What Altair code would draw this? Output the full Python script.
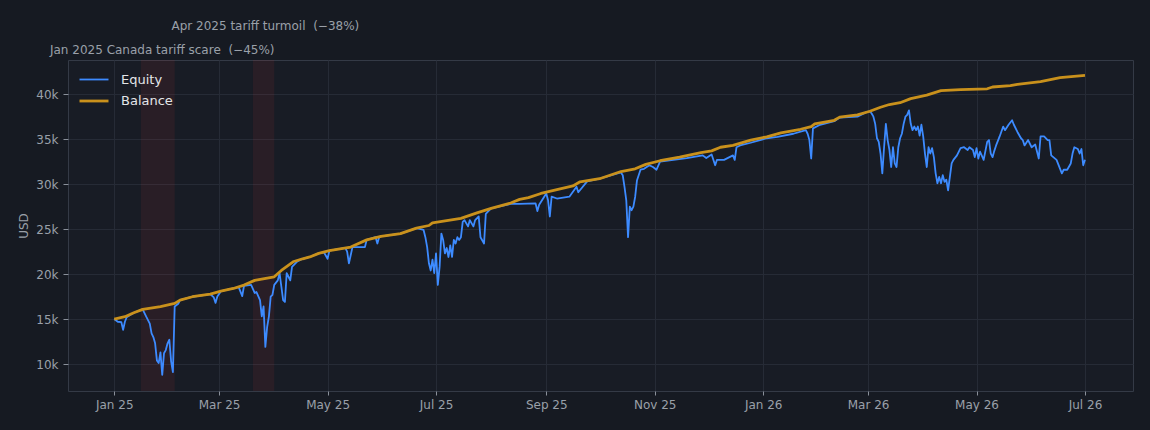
import altair as alt
import pandas as pd

# ---------------- data ----------------
START = "2025-01-01"

# balance: days since 2025-01-01, value in USD
bal_day = [0, 6, 11, 16, 26, 34, 37, 44, 54, 60,
           67, 73, 79, 90, 94, 101, 106, 110, 115, 121,
           133, 142, 150, 161, 170, 177, 179, 195, 204, 212,
           223, 228, 233, 240, 249, 258, 262, 273, 285, 293,
           299, 307, 318, 330, 336, 341, 348, 358, 367, 375,
           386, 392, 394, 405, 408, 418, 425, 431, 436, 442,
           448, 457, 465, 476, 491, 494, 504, 508, 521, 532,
           546]
bal_val = [15000, 15260, 15700, 16070, 16370, 16740, 17100, 17480, 17780, 18100,
           18400, 18780, 19300, 19700, 20400, 21400, 21700, 21900, 22300, 22600,
           23000, 23800, 24200, 24500, 25100, 25400, 25700, 26200, 26800, 27300,
           27900, 28300, 28500, 28960, 29400, 29800, 30260, 30600, 31400, 31700,
           32200, 32600, 33000, 33500, 33700, 34100, 34300, 34900, 35260, 35700,
           36100, 36400, 36700, 37100, 37450, 37700, 38100, 38550, 38850, 39050,
           39500, 39900, 40400, 40500, 40600, 40800, 40960, 41100, 41400, 41850,
           42100]

# equity: days since 2025-01-01, value in USD
eq_day = [0, 2, 4, 5, 6, 7, 11, 16, 18, 20,
          21, 22, 23, 24, 25, 26, 27, 28, 29, 30,
          31, 32, 33, 34, 36, 37, 44, 54, 56, 57,
          58, 60, 67, 70, 72, 73, 77, 79, 80, 82,
          83, 84, 85, 86, 87, 88, 89, 90, 92, 93,
          94, 95, 96, 97, 98, 99, 100, 103, 106, 110,
          115, 118, 120, 121, 130, 131, 132, 133, 134, 141,
          142, 147, 148, 149, 150, 161, 170, 174, 175, 176,
          177, 178, 179, 180, 181, 182, 183, 184, 185, 186,
          187, 188, 189, 190, 191, 192, 193, 194, 195, 196,
          197, 199, 200, 202, 203, 205, 206, 208, 209, 211,
          212, 223, 228, 237, 238, 239, 243, 244, 245, 246,
          249, 256, 260, 261, 266, 273, 285, 286, 287, 288,
          289, 290, 291, 292, 293, 294, 296, 298, 301, 303,
          305, 307, 322, 331, 333, 336, 338, 339, 343, 348,
          349, 350, 352, 358, 367, 373, 382, 389, 390, 391,
          392, 393, 397, 405, 408, 418, 423, 425, 426, 427,
          428, 429, 430, 431, 432, 433, 434, 435, 436, 437,
          438, 439, 440, 441, 442, 443, 444, 445, 446, 447,
          448, 449, 450, 451, 452, 453, 454, 455, 456, 457,
          458, 459, 460, 461, 462, 463, 464, 465, 466, 467,
          468, 469, 470, 471, 472, 474, 476, 478, 480, 481,
          483, 484, 485, 486, 487, 489, 491, 492, 493, 494,
          495, 496, 498, 500, 501, 503, 505, 506, 508, 510,
          511, 512, 514, 516, 518, 520, 521, 523, 525, 526,
          527, 530, 532, 533, 534, 536, 538, 539, 540, 542,
          543, 544, 545, 546]
eq_val = [15000, 14700, 14650, 13800, 14700, 15200, 15700, 16070, 15260, 14500,
          13400, 13000, 12300, 10400, 10100, 11300, 8800, 11200, 11550, 12300,
          12700, 10300, 9100, 16400, 16700, 17100, 17480, 17780, 17400, 16800,
          17500, 18100, 18400, 18550, 17550, 18700, 18800, 17900, 18000, 17100,
          15300, 16400, 11900, 14100, 15300, 17500, 17700, 18800, 19300, 20100,
          18600, 17100, 16900, 20100, 19700, 19300, 20800, 21400, 21700, 21900,
          22300, 22400, 21700, 22600, 22900, 22500, 21200, 22100, 23000, 23000,
          23800, 24100, 23400, 24100, 24200, 24500, 25100, 24900, 24100, 23000,
          21200, 20400, 21600, 20100, 22300, 18800, 20800, 24500, 23800, 22300,
          22900, 21900, 23200, 21900, 23800, 23400, 24100, 23800, 24100, 25800,
          26000, 25300, 26000, 25300, 26000, 26400, 24100, 23400, 26700, 27100,
          27300, 27800, 27800, 27850, 27000, 27700, 28960, 28200, 26400, 28600,
          28400, 28600, 29700, 29100, 30300, 30600, 31300, 31000, 29700, 28200,
          24100, 27500, 27100, 27500, 28600, 30400, 31600, 31700, 32100, 31900,
          31600, 32500, 32900, 33200, 32900, 33300, 32100, 32700, 32700, 33200,
          32700, 34100, 34300, 34600, 35100, 35260, 35600, 36000, 35600, 34900,
          32850, 36200, 36600, 37000, 37400, 37500, 38000, 38100, 37850, 37500,
          36700, 35100, 34700, 33400, 31200, 34100, 36700, 34900, 33800, 31900,
          34100, 32300, 31900, 34100, 35100, 35600, 36700, 37500, 37700, 38200,
          36700, 36000, 36400, 36000, 36400, 35400, 36600, 35300, 33400, 31900,
          34100, 33400, 34000, 33000, 31200, 30100, 30800, 30100, 31000, 30250,
          30500, 29300, 30800, 32300, 32700, 33200, 34000, 34100, 33800, 34100,
          33800, 33000, 34000, 32850, 33600, 32700, 34700, 34900, 33400, 33000,
          33700, 34300, 35300, 36400, 36000, 36600, 37100, 36600, 35800, 35100,
          34900, 34300, 34900, 34100, 34400, 32850, 35300, 35300, 34900, 34900,
          33200, 32700, 31700, 31200, 31600, 31600, 32300, 33400, 34100, 33900,
          33400, 33900, 32100, 32700]

# drawdown event bands and labels
band_start = ["2025-01-16", "2025-03-20"]
band_end = ["2025-02-04", "2025-04-01"]
band_label = ["Jan 2025 Canada tariff scare \u00a0(\u221245%)",
              "Apr 2025 tariff turmoil \u00a0(\u221238%)"]
label_date = ["2025-01-28", "2025-03-27"]

series_names = ["Equity", "Balance"]
series_colors = ["#3d8bff", "#c9911c"]
series_widths = [1.8, 2.8]

y_ticks = [10000, 15000, 20000, 25000, 30000, 35000, 40000]

# ---------------- tables ----------------
def to_dates(days):
    d = pd.Timestamp(START) + pd.to_timedelta(days, unit="D")
    return [x.strftime("%Y-%m-%dT00:00:00") for x in d]

df_lines = pd.concat([
    pd.DataFrame({"date": to_dates(eq_day), "value": eq_val, "series": "Equity"}),
    pd.DataFrame({"date": to_dates(bal_day), "value": bal_val, "series": "Balance"}),
], ignore_index=True)

df_bands = pd.DataFrame({
    "start": [s + "T00:00:00" for s in band_start],
    "end": [s + "T00:00:00" for s in band_end],
    "label": band_label,
    "mid": [s + "T00:00:00" for s in label_date],
    "idx": [0, 1],
})

# ---------------- chart ----------------
x_scale = alt.Scale(domain=[alt.DateTime(year=2024, month=12, date=6),
                            alt.DateTime(year=2026, month=7, date=28)])
y_scale = alt.Scale(domain=[7000, 43800], nice=False, zero=False)

x_axis = alt.Axis(format="%b %y", tickCount={"interval": "month", "step": 2},
                  title=None, labelFontSize=12, labelPadding=4, tickSize=4)
y_axis = alt.Axis(values=y_ticks, format="~s", title="USD", labelFontSize=12,
                  labelPadding=5, tickSize=5, titlePadding=5)

color = alt.Color("series:N",
                  scale=alt.Scale(domain=series_names, range=series_colors),
                  legend=alt.Legend(title=None, orient="none", legendX=17, legendY=11,
                                    symbolType="M-2,0H2", symbolSize=210,
                                    labelOffset=18, rowPadding=5,
                                    labelFontSize=13, labelColor="#e3e5e8",
                                    labelFont="DejaVu Sans"))
swidth = alt.StrokeWidth("series:N",
                         scale=alt.Scale(domain=series_names, range=series_widths),
                         legend=None)

bands = alt.Chart(df_bands).mark_rect(color="#dc3c3c", opacity=0.09).encode(
    x=alt.X("start:T", scale=x_scale, axis=x_axis),
    x2="end:T",
)

base = alt.Chart(df_lines).encode(
    x=alt.X("date:T", scale=x_scale, axis=x_axis),
    y=alt.Y("value:Q", scale=y_scale, axis=y_axis),
    color=color,
    strokeWidth=swidth,
)
eq_line = base.transform_filter(alt.datum.series == "Equity").mark_line(interpolate="linear")
bal_line = base.transform_filter(alt.datum.series == "Balance").mark_line(interpolate="linear")

txt1 = alt.Chart(df_bands).transform_filter(alt.datum.idx == 0).mark_text(
    fontSize=12, color="#9aa0a9", baseline="middle", align="center", font="DejaVu Sans"
).encode(x=alt.X("mid:T", scale=x_scale), y=alt.value(-10), text="label:N")
txt2 = alt.Chart(df_bands).transform_filter(alt.datum.idx == 1).mark_text(
    fontSize=12, color="#9aa0a9", baseline="middle", align="center", font="DejaVu Sans"
).encode(x=alt.X("mid:T", scale=x_scale), y=alt.value(-34), text="label:N")

chart = alt.layer(bands, eq_line, bal_line, txt1, txt2).properties(
    width=1065, height=331,
    autosize=alt.AutoSizeParams(type="none"),
    padding={"left": 60, "top": 52, "right": 8, "bottom": 31},
    background="#161a22",
).configure_view(
    fill="#181c25", stroke="#343a46", strokeWidth=1,
).configure_axis(
    grid=True, gridColor="#262b36", gridWidth=1, domain=False,
    tickColor="#8a909a", labelColor="#9aa0a9", titleColor="#9aa0a9",
    labelFont="DejaVu Sans", titleFont="DejaVu Sans",
    titleFontSize=12, titleFontWeight="normal",
).configure_line(strokeJoin="round")

chart.save("out.html", embed_options={"renderer": "svg", "actions": False,
                                      "defaultStyle": "html, body { background: #161a22; }"})
